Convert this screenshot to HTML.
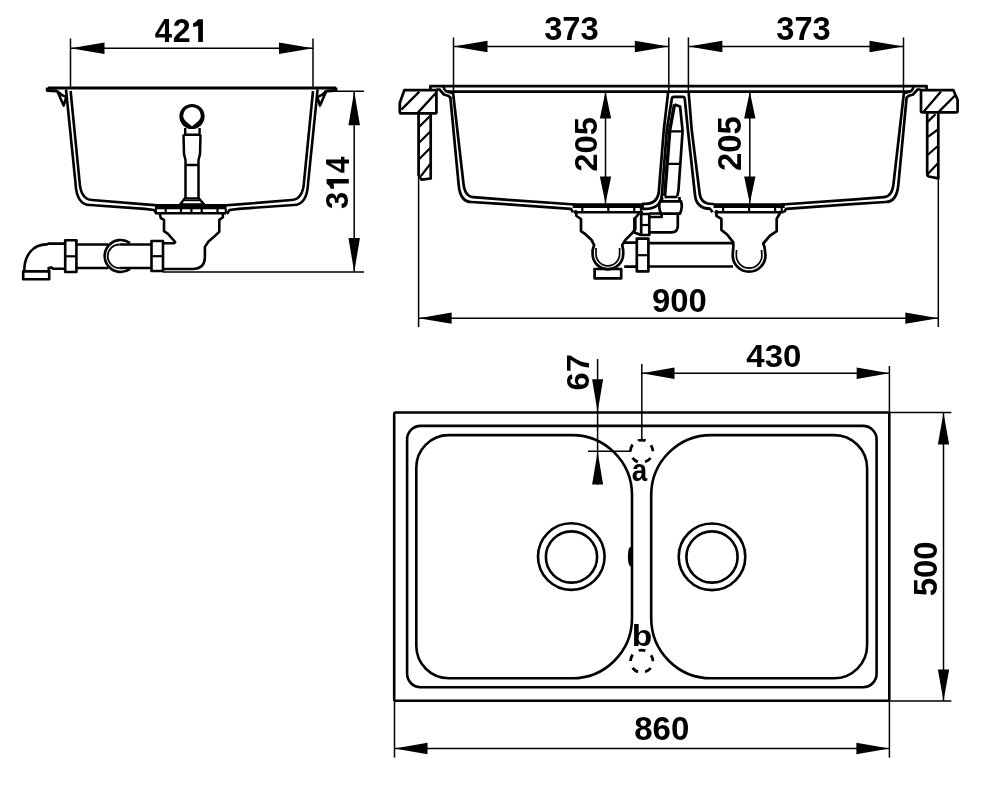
<!DOCTYPE html>
<html><head><meta charset="utf-8"><style>html,body{margin:0;padding:0;background:#fff;overflow:hidden}svg{display:block;will-change:transform}text{font-family:"Liberation Sans",sans-serif;font-weight:bold;fill:#000;stroke:none}</style></head>
<body><svg width="1000" height="797" viewBox="0 0 1000 797">
<g fill="none" stroke="#000" stroke-linejoin="round" stroke-linecap="butt">
<line x1="70.5" y1="38.5" x2="70.5" y2="88" stroke-width="1.5"/>
<line x1="313" y1="38.5" x2="313" y2="88" stroke-width="1.5"/>
<line x1="70.5" y1="48.25" x2="313" y2="48.25" stroke-width="1.5"/>
<polygon points="70.50,48.25 104.50,42.50 104.50,54.00" fill="#000" stroke="none"/>
<polygon points="313.00,48.25 279.00,54.00 279.00,42.50" fill="#000" stroke="none"/>
<text transform="translate(154.79,42.00) scale(0.9293,1)" font-size="33.48">4</text>
<text transform="translate(172.73,42.00) scale(0.9687,1)" font-size="33.29">2</text>
<path d="M198.2,19.3 L202.9,19.3 L202.9,42 L198.2,42 L198.2,26 L193.1,26.9 L193.1,23.3 Q196.5,22 198.2,19.3 Z" fill="#000" stroke="none"/>
<path d="M48,87.9 L336,87.9" stroke-width="3"/>
<path d="M47.2,87.5 L47.2,90.5 L57,91" stroke-width="2.8"/>
<path d="M336,87.5 L336,90.5 L326.5,91" stroke-width="2.8"/>
<g>
<path d="M66,89.5 L75.5,183 Q76.5,205 90,205 L145,208.9 L154,210 L156.7,213.9" stroke-width="2.6"/>
<path d="M70.6,91 L79.5,181 Q80.5,199.5 92,200 L145,204.4 L160,205.5" stroke-width="2.6"/>
<path d="M57.5,91.5 L63.6,105.6 L66.3,97 Q62,96 57.5,91.5 Z" stroke-width="2.6"/>
</g>
<g transform="translate(383.6,0) scale(-1,1)">
<path d="M66,89.5 L75.5,183 Q76.5,205 90,205 L145,208.9 L154,210 L156.7,213.9" stroke-width="2.6"/>
<path d="M70.6,91 L79.5,181 Q80.5,199.5 92,200 L145,204.4 L160,205.5" stroke-width="2.6"/>
<path d="M57.5,91.5 L63.6,105.6 L66.3,97 Q62,96 57.5,91.5 Z" stroke-width="2.6"/>
</g>
<circle cx="192" cy="116.5" r="12.6" fill="#000" stroke="none"/>
<path d="M192,126.5 C189,123.5 183.2,120.5 183.2,115.8 A8.8,8.8 0 1 1 200.8,115.8 C200.8,120.5 195,123.5 192,126.5 Z" fill="#fff" stroke="none"/>
<path d="M185.2,128 L185.2,134.7 M199.6,128 L199.6,134.7" stroke-width="2.4"/>
<path d="M183.5,134.7 L200.5,134.7 M183.5,134.7 L184,154 L185.5,160 L185.5,198.5 M200.5,134.7 L200,154 L198.5,160 L198.5,198.5 M185.5,165 L198.5,165" stroke-width="2.5"/>
<path d="M184.6,198.5 L180.1,204.4 L204,204.4 L199,198.5 Z" stroke-width="2.4"/>
<path d="M184,200.6 L200,200.6" stroke-width="1.2"/>
<path d="M154.9,204 L226.5,204 L226.5,209.2 L154.9,209.2 Z" fill="#000" stroke="none"/>
<path d="M156,213.2 L226,213.2" stroke-width="2.4"/>
<path d="M155.9,209 L155.9,213 M165.7,209 L165.7,213 M181,209 L181,213 M191.4,209 L191.4,213 M201.7,209 L201.7,213 M217.5,209 L217.5,213 M225.8,209 L225.8,213" stroke-width="2.2"/>
<path d="M159.9,214 L160.8,218.1 L164,219.9 L164,231.2 L168,233.9 L170.7,237 L175.2,242 L173.9,243.3 L162.6,243.3" stroke-width="2.6"/>
<path d="M222.9,214 L222.9,217.2 L219.3,219.9 L219.3,231.6 L214.8,236.1 L208.5,241.5 L204.9,246.9 L204.9,256.8 Q204.9,269 192.3,269 L162.6,269" stroke-width="2.6"/>
<path d="M24.2,271.4 C24.2,255 33,244.4 46.5,244.4 L49,243.6 L65.2,243.6" stroke-width="2.6"/>
<rect x="23.2" y="271.4" width="26" height="7.9" stroke-width="2.6"/>
<path d="M49.2,271.4 L48.6,268 L51.5,267.4 L53,268.8 L65.2,268.8" stroke-width="2.6"/>
<rect x="65.2" y="240.3" width="11.2" height="31.7" stroke-width="2.6"/>
<path d="M65.2,256.3 L76.4,256.3" stroke-width="2.2"/>
<path d="M76.4,244.5 L108.5,244.5 M76.4,268 L108.5,268 M119.5,244.5 L151.5,244.5 M119.5,268 L151.5,268" stroke-width="2.6"/>
<path d="M130,243 A16,16 0 1 0 130,269" stroke-width="2.6"/>
<path d="M119.5,244.5 A11.75,11.75 0 0 0 119.5,268" stroke-width="1.8"/>
<rect x="151.5" y="241" width="11.5" height="30" stroke-width="2.6"/>
<path d="M151.5,256.2 L163,256.2" stroke-width="2.2"/>
<line x1="324" y1="91.3" x2="364" y2="91.3" stroke-width="1.5"/>
<line x1="162.6" y1="272.1" x2="364" y2="272.1" stroke-width="1.5"/>
<line x1="354.2" y1="91.3" x2="354.2" y2="272.1" stroke-width="1.5"/>
<polygon points="354.20,91.30 359.95,125.30 348.45,125.30" fill="#000" stroke="none"/>
<polygon points="354.20,272.10 348.45,238.10 359.95,238.10" fill="#000" stroke="none"/>
<text transform="translate(348.49,209.02) rotate(-90) scale(0.9806,1)" font-size="31.41">3</text>
<text transform="translate(348.80,173.30) rotate(-90) scale(0.9283,1)" font-size="32.32">4</text>
<path d="M326.6,183.4 L326.6,179 L348.8,179 L348.8,183.4 L333.6,183.4 L334.1,188.8 L330.6,188.8 Q329.3,185 326.6,183.4 Z" fill="#000" stroke="none"/>
<line x1="453.5" y1="37.5" x2="453.5" y2="91" stroke-width="1.5"/>
<line x1="668.8" y1="37.5" x2="668.8" y2="91" stroke-width="1.5"/>
<line x1="688.4" y1="37.5" x2="688.4" y2="91" stroke-width="1.5"/>
<line x1="903.5" y1="37.5" x2="903.5" y2="91" stroke-width="1.5"/>
<line x1="453.5" y1="46.5" x2="668.8" y2="46.5" stroke-width="1.5"/>
<polygon points="453.50,46.50 487.50,40.75 487.50,52.25" fill="#000" stroke="none"/>
<polygon points="668.80,46.50 634.80,52.25 634.80,40.75" fill="#000" stroke="none"/>
<line x1="688.4" y1="46.5" x2="903.5" y2="46.5" stroke-width="1.5"/>
<polygon points="688.40,46.50 722.40,40.75 722.40,52.25" fill="#000" stroke="none"/>
<polygon points="903.50,46.50 869.50,52.25 869.50,40.75" fill="#000" stroke="none"/>
<text transform="translate(544.14,40.07) scale(0.9951,1)" font-size="32.96">373</text>
<text transform="translate(776.25,40.07) scale(0.9894,1)" font-size="32.96">373</text>
<path d="M430.4,90 L430.4,86.1 L926.6,86.1 L926.6,90" stroke-width="2.7"/>
<path d="M404.3,90.2 L436.4,90.2 L436.4,112.8 Q436.4,113.4 435.5,113.4 L401,113.4 Q399.8,113.4 399.8,112 L399.8,103 Z" stroke-width="2.7"/>
<path d="M401.3,109.6 L419.4,91.6 M417.9,112.6 L435.9,93" stroke-width="2.3"/>
<path d="M418.6,113.4 L418.6,175 L421.6,179.7 L430.7,178.5 L430.7,113.4" stroke-width="2.7"/>
<path d="M419,127 L430.3,115.7 M419,142.8 L430.3,131.5 M419,159.3 L430.3,148 M421,176 L430.3,163.9" stroke-width="2.2"/>
<path d="M921,90.2 L953.4,90.2 L957.6,99.8 L957.6,111 Q957.6,112.4 956,112.4 L922.5,112.4 Q921,112.4 921,111 Z" stroke-width="2.7"/>
<path d="M923.8,111.6 L941,91.6 M939,111.6 L954.8,95.7" stroke-width="2.3"/>
<path d="M927.2,112.4 L927.2,174 Q927.2,176 929,176.5 L938.3,178.4 L938.3,112.4" stroke-width="2.7"/>
<path d="M927.6,121.9 L935.5,114.3 M927.6,137.1 L937.9,129.5 M927.6,155 L937.9,146 M927.6,174.3 L937.9,163.3" stroke-width="2.2"/>
<g>
<path d="M436.4,89.5 L439.5,89.5 L443.9,94.5 L448.2,95.8 L450.4,97.6 L458.6,184 Q460,202 471.4,202 L505,204.2 L570.8,208.8 L573,212.2" stroke-width="2.7"/>
<path d="M443.4,86.5 Q444.7,91.5 447.5,91.6 L453.1,93.2 L463.4,183 Q464.5,196.5 472.9,197.1 L505,199.7 L575,204.5" stroke-width="2.7"/>
</g>
<g transform="translate(1357,0) scale(-1,1)">
<path d="M436.4,89.5 L439.5,89.5 L443.9,94.5 L448.2,95.8 L450.4,97.6 L458.6,184 Q460,202 471.4,202 L505,204.2 L570.8,208.8 L573,212.2" stroke-width="2.7"/>
<path d="M443.4,86.5 Q444.7,91.5 447.5,91.6 L453.1,93.2 L463.4,183 Q464.5,196.5 472.9,197.1 L505,199.7 L575,204.5" stroke-width="2.7"/>
</g>
<path d="M447.5,91.6 L910,91.6" stroke-width="2.7"/>
<path d="M668.2,91.6 L663.8,130 L659,189.4 Q658.5,203.8 645.7,203.8 L642,203.8" stroke-width="2.7"/>
<path d="M671.8,99 L666.8,130 L661.8,195 Q661,208.9 645,208.9 L642,208.9" stroke-width="2.7"/>
<path d="M671.8,99 Q672,96.9 674,96.9 L682.5,96.9 Q684.5,96.9 684.8,99" stroke-width="2.7"/>
<path d="M688.6,91.6 L691.7,130 L699.6,193 Q700.5,204 712,204 L714,204" stroke-width="2.7"/>
<path d="M684.8,99 L687.9,130 L695,195 Q696.5,208.7 710,208.7 L712.6,212.3" stroke-width="2.7"/>
<path d="M674.5,104.4 L669.8,130 L664.7,196" stroke-width="3.4"/>
<path d="M674.5,104.4 L680.1,106.6 L682.6,131 L678.5,190 L677.4,196" stroke-width="2.7"/>
<path d="M670,131.4 L682.5,131.4 M666.8,163.9 L680.4,163.9" stroke-width="2.3"/>
<path d="M664.5,197 L677.5,197 M662,197 L662,201.3 M679.5,197 L679.5,201.3 M660,201.3 L681,201.3 Q683,207 680,213.6 L661,213.6 Q658,207 660,201.3 Z" stroke-width="2.7"/>
<path d="M572.6999999999999,203.2 L643.9,203.2 L643.9,208 L572.6999999999999,208 Z" fill="#000" stroke="none"/>
<path d="M573.6999999999999,212.3 L642.9,212.3" stroke-width="2.5"/>
<path d="M575.6999999999999,210 L575.6999999999999,212 M582.3,208 L582.3,212 M608.3,208 L608.3,212 M634.3,208 L634.3,212 M640.9,208 L640.9,212" stroke-width="2.2"/>
<path d="M713.5,203.2 L784.7,203.2 L784.7,208 L713.5,208 Z" fill="#000" stroke="none"/>
<path d="M714.5,212.3 L783.7,212.3" stroke-width="2.5"/>
<path d="M716.5,210 L716.5,212 M723.1,208 L723.1,212 M749.1,208 L749.1,212 M775.1,208 L775.1,212 M781.7,208 L781.7,212" stroke-width="2.2"/>
<path d="M576,212.5 L576.5,216 L581,219 L581,231.1 L584.6,233.6 L591.6,240.1 L594.1,245.2 L592.6,250.2 L592.6,254 A15.3,15.3 0 0 0 623.2,254 L623.2,250 L622.2,245.2 L625.2,240.1 L632.2,233.1 L635.3,229.1 L635.3,218 L639.3,213" stroke-width="2.7"/>
<path d="M596,248 L596,254 A11.8,11.8 0 0 0 619.6,254 L619.6,248" stroke-width="1.7"/>
<rect x="594.6" y="269" width="26.6" height="9.3" stroke-width="2.7"/>
<path d="M716.4,212.5 L716.4,215.8 L721.4,218.9 L721.4,230 L727.1,234.5 L733.3,242.4 L733.3,246.9 L732.7,255.3 A16.4,16.4 0 0 0 765.5,255.3 L764.5,246.9 L763.2,243.5 L770,235.6 L776.7,231.1 L776.7,218.7 L780.1,213" stroke-width="2.7"/>
<path d="M736.5,250 L736.3,255.3 A12.8,12.8 0 0 0 761.9,255.3 L761.5,250" stroke-width="1.7"/>
<path d="M624.2,242.6 L636.8,242.6 M624.2,266.7 L636.8,266.7" stroke-width="2.7"/>
<rect x="636.8" y="238.6" width="11.6" height="32.7" stroke-width="2.7"/>
<path d="M636.8,255.2 L648.4,255.2" stroke-width="2.2"/>
<path d="M648.4,243.2 L733.3,243.2 M648.4,266.5 L733,266.5" stroke-width="2.7"/>
<rect x="641.2" y="214" width="8.1" height="21" stroke-width="2.7"/>
<path d="M641.2,225 L649.3,225" stroke-width="2.2"/>
<path d="M634.4,217.5 L634.4,232.4 L641,235" stroke-width="2.7"/>
<path d="M649.3,217 L661.6,217 L661.6,213 M677.8,213 L677.8,226 Q677.8,232.4 671.3,232.4 L649.3,232.4 M649.3,213.5 L660,213.5" stroke-width="2.7"/>
<line x1="418.6" y1="113" x2="418.6" y2="327" stroke-width="1.5"/>
<line x1="938.3" y1="112" x2="938.3" y2="327" stroke-width="1.5"/>
<line x1="418.6" y1="318.2" x2="938.3" y2="318.2" stroke-width="1.5"/>
<polygon points="418.60,318.20 451.60,312.60 451.60,323.80" fill="#000" stroke="none"/>
<polygon points="938.30,318.20 905.30,323.80 905.30,312.60" fill="#000" stroke="none"/>
<text transform="translate(652.02,312.06) scale(0.9789,1)" font-size="33.52">900</text>
<line x1="605.5" y1="91.6" x2="605.5" y2="203.5" stroke-width="1.5"/>
<polygon points="605.50,91.60 611.15,118.60 599.85,118.60" fill="#000" stroke="none"/>
<polygon points="605.50,203.50 599.85,176.50 611.15,176.50" fill="#000" stroke="none"/>
<text transform="translate(596.98,171.68) rotate(-90) scale(1.0349,1)" font-size="31.69">205</text>
<line x1="749.8" y1="91.6" x2="749.8" y2="203.5" stroke-width="1.5"/>
<polygon points="749.80,91.60 755.45,118.60 744.15,118.60" fill="#000" stroke="none"/>
<polygon points="749.80,203.50 744.15,176.50 755.45,176.50" fill="#000" stroke="none"/>
<text transform="translate(741.48,170.98) rotate(-90) scale(1.0124,1)" font-size="32.39">205</text>
<rect x="394.2" y="412.5" width="495.1" height="288.2" rx="1.5" stroke-width="2.6"/>
<rect x="407.1" y="425.9" width="469.5" height="261.3" rx="13.5" stroke-width="2.6"/>
<path d="M448.8,435.1 L572,435.1 A60,60 0 0 1 632,495.1 L632,618.3 A60,60 0 0 1 572,678.3 L448.8,678.3 A32.5,32.5 0 0 1 416.3,645.8 L416.3,467.6 A32.5,32.5 0 0 1 448.8,435.1 Z" stroke-width="2.6"/>
<path d="M711.2,435.1 L834.1,435.1 A33,33 0 0 1 867.1,468.1 L867.1,645.3 A33,33 0 0 1 834.1,678.3 L711.2,678.3 A60,60 0 0 1 651.2,618.3 L651.2,495.1 A60,60 0 0 1 711.2,435.1 Z" stroke-width="2.6"/>
<circle cx="571.3" cy="556.6" r="33.3" stroke-width="2.6"/>
<circle cx="571.5" cy="557" r="25.6" stroke-width="2.6"/>
<circle cx="712" cy="556.8" r="33.3" stroke-width="2.6"/>
<circle cx="712" cy="557" r="25.6" stroke-width="2.6"/>
<path d="M631.8,547 L630,547 Q627.9,549 627.9,556.5 Q627.9,564 630,566.2 L631.8,566.2 Z" fill="#000" stroke="none"/>
<circle cx="641.6" cy="451.3" r="11.2" stroke-width="2.8" stroke-dasharray="6.80,7.27" stroke-dashoffset="6.92"/>
<circle cx="641.7" cy="661.3" r="11.2" stroke-width="2.8" stroke-dasharray="6.80,7.27" stroke-dashoffset="6.92"/>
<text transform="translate(631.87,481.49) scale(0.9094,1)" font-size="30.55">a</text>
<text transform="translate(631.79,646.10) scale(1.1077,1)" font-size="30.27">b</text>
<line x1="597.6" y1="359" x2="597.6" y2="484.6" stroke-width="1.5"/>
<polygon points="597.60,412.30 592.10,379.30 603.10,379.30" fill="#000" stroke="none"/>
<polygon points="597.60,451.40 603.10,484.40 592.10,484.40" fill="#000" stroke="none"/>
<line x1="588" y1="451.2" x2="631.4" y2="451.2" stroke-width="1.5"/>
<text transform="translate(589.48,390.48) rotate(-90) scale(1.0106,1)" font-size="32.25">67</text>
<line x1="641.8" y1="364" x2="641.8" y2="440" stroke-width="1.5"/>
<line x1="637.5" y1="440" x2="646" y2="440" stroke-width="1.5"/>
<line x1="889.4" y1="366" x2="889.4" y2="412.5" stroke-width="1.5"/>
<line x1="641.8" y1="373.2" x2="889.4" y2="373.2" stroke-width="1.5"/>
<polygon points="641.80,373.20 674.50,367.50 674.50,378.90" fill="#000" stroke="none"/>
<polygon points="889.40,373.20 856.70,378.90 856.70,367.50" fill="#000" stroke="none"/>
<text transform="translate(746.27,366.98) scale(1.0303,1)" font-size="32.11">430</text>
<line x1="889.4" y1="412.5" x2="951.4" y2="412.5" stroke-width="1.5"/>
<line x1="889.4" y1="701" x2="951.4" y2="701" stroke-width="1.5"/>
<line x1="943.5" y1="412.8" x2="943.5" y2="701" stroke-width="1.5"/>
<polygon points="943.50,412.80 949.15,444.40 937.85,444.40" fill="#000" stroke="none"/>
<polygon points="943.50,701.00 937.85,669.40 949.15,669.40" fill="#000" stroke="none"/>
<text transform="translate(936.77,596.29) rotate(-90) scale(1.0124,1)" font-size="32.54">500</text>
<line x1="394.5" y1="701" x2="394.5" y2="757.6" stroke-width="1.5"/>
<line x1="889.4" y1="701" x2="889.4" y2="757.6" stroke-width="1.5"/>
<line x1="394.5" y1="748.5" x2="889.4" y2="748.5" stroke-width="1.5"/>
<polygon points="394.50,748.50 427.50,742.80 427.50,754.20" fill="#000" stroke="none"/>
<polygon points="889.40,748.50 856.40,754.20 856.40,742.80" fill="#000" stroke="none"/>
<text transform="translate(634.21,739.77) scale(0.9989,1)" font-size="33.10">860</text>
</g></svg></body></html>
